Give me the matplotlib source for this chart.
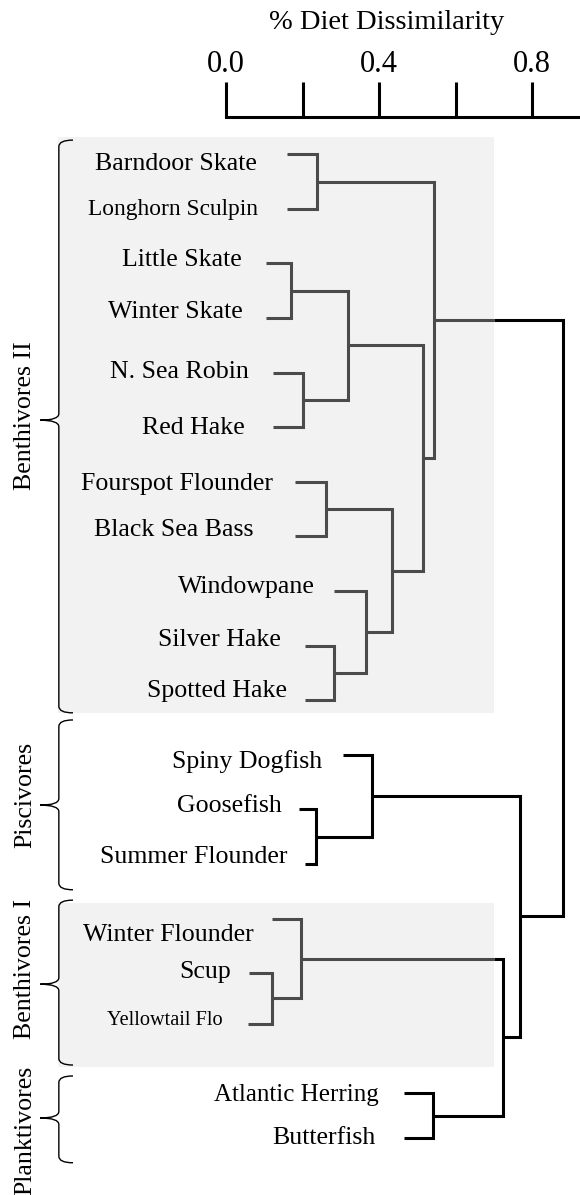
import matplotlib.pyplot as plt
from matplotlib.path import Path
from matplotlib.patches import PathPatch, Rectangle

plt.rcParams['font.family'] = ['Liberation Serif', 'DejaVu Serif']

# leaves, top to bottom
fish = ['Barndoor Skate', 'Longhorn Sculpin', 'Little Skate', 'Winter Skate',
        'N. Sea Robin', 'Red Hake', 'Fourspot Flounder', 'Black Sea Bass',
        'Windowpane', 'Silver Hake', 'Spotted Hake', 'Spiny Dogfish',
        'Goosefish', 'Summer Flounder', 'Winter Flounder', 'Scup',
        'Yellowtail Flo', 'Atlantic Herring', 'Butterfish']
group = (['Benthivores II'] * 11 + ['Piscivores'] * 3
         + ['Benthivores I'] * 3 + ['Planktivores'] * 2)
group_names = ['Benthivores II', 'Piscivores', 'Benthivores I', 'Planktivores']

# linkage (scipy style: new cluster ids start at len(fish))
merge_a = [0, 2, 4, 20, 6, 9, 8, 23, 22, 19, 12, 11, 15, 14, 17, 32, 30, 28]
merge_b = [1, 3, 5, 21, 7, 10, 24, 25, 26, 27, 13, 29, 16, 31, 18, 33, 34, 35]
merge_h = [0.238, 0.170, 0.202, 0.320, 0.261, 0.283, 0.366, 0.433, 0.516,
           0.544, 0.234, 0.381, 0.119, 0.196, 0.541, 0.724, 0.769, 0.882]

scale_ticks = [0.0, 0.2, 0.4, 0.6, 0.8]
scale_labels = ['0.0', '', '0.4', '', '0.8']

# ---- layout ----
leaf_row = list(range(16)) + [15.92, 17.19, 18.02]
stub_start = [0.159, 0.159, 0.104, 0.104, 0.123, 0.123, 0.180, 0.180, 0.283,
              0.207, 0.207, 0.305, 0.192, 0.207, 0.119, 0.060, 0.058,
              0.465, 0.465]
label_end = [0.081, 0.084, 0.042, 0.044, 0.060, 0.050, 0.123, 0.073, 0.233,
             0.144, 0.159, 0.250, 0.146, 0.162, 0.073, 0.013, -0.010,
             0.399, 0.390]
label_dy = [0.29, 0.11, 0.05, 0.0, 0.09, 0.13, 0.14, 0.0, 0.03, 0.01, -0.06,
            0.24, 0.04, -0.02, 0.40, 0.08, 0.02, 0.14, 0.10]
label_size = {'Longhorn Sculpin': 16.8, 'Yellowtail Flo': 14.6,
              'Atlantic Herring': 18.0}
shaded = {'Benthivores II': (-0.32, 10.23), 'Benthivores I': (13.72, 16.71)}
braces = {'Benthivores II': (-0.26, 4.87, 10.23),
          'Piscivores': (10.36, 11.92, 13.47),
          'Benthivores I': (13.66, 15.20, 16.68),
          'Planktivores': (16.88, 17.65, 18.47)}
group_label_row = {'Benthivores II': 4.79, 'Piscivores': 11.73,
                   'Benthivores I': 14.92, 'Planktivores': 17.87}

PX_X = 382.5   # pixels per unit dissimilarity
PX_Y = 54.6    # pixels per leaf row
W, H = 580, 1195
xmin, xmax = -226 / PX_X, (W - 226) / PX_X
rmin, rmax = -154.3 / PX_Y, (H - 154.3) / PX_Y
box_left, box_right = -0.44, 0.7007

GRAY = '#4b4b4b'
BLACK = '#000000'
LW = 2.2

fig = plt.figure(figsize=(W / 100, H / 100), dpi=100)
ax = fig.add_axes([0, 0, 1, 1])
ax.set_xlim(xmin, xmax)
ax.set_ylim(rmax, rmin)
ax.axis('off')

# shaded boxes
for g, (top, bottom) in shaded.items():
    ax.add_patch(Rectangle((box_left, top), box_right - box_left, bottom - top,
                           facecolor='#f2f2f2', edgecolor='none', zorder=0))

# dendrogram
n = len(fish)
node_x = list(stub_start)
node_y = list(leaf_row)
members = [{i} for i in range(n)]
for a, b, h in zip(merge_a, merge_b, merge_h):
    node_x.append(h)
    node_y.append((node_y[a] + node_y[b]) / 2)
    members.append(members[a] | members[b])


def is_shaded(node):
    gs = {group[i] for i in members[node]}
    return len(gs) == 1 and gs.pop() in shaded


def line(xs, ys, color):
    ax.plot(xs, ys, color=color, lw=LW, solid_joinstyle='miter',
            solid_capstyle='butt', zorder=2)


for k, (a, b, h) in enumerate(zip(merge_a, merge_b, merge_h)):
    node = n + k
    if is_shaded(node):
        line([node_x[a], h, h, node_x[b]],
             [node_y[a], node_y[a], node_y[b], node_y[b]], GRAY)
        continue
    xa, xb = node_x[a], node_x[b]
    for c in (a, b):
        if is_shaded(c):
            line([node_x[c], box_right], [node_y[c], node_y[c]], GRAY)
    if is_shaded(a):
        xa = box_right
    if is_shaded(b):
        xb = box_right
    line([xa, h, h, xb], [node_y[a], node_y[a], node_y[b], node_y[b]], BLACK)

# leaf labels
for i, name in enumerate(fish):
    ax.text(label_end[i], leaf_row[i] + label_dy[i], name,
            fontsize=label_size.get(name, 18.6), ha='right', va='baseline')

# braces and group labels
bx, hx, tx, r = -0.437, -0.400, -0.486, 0.12
for g in group_names:
    top, tip, bottom = braces[g]
    verts = [(hx, top), (bx, top), (bx, top + r), (bx, tip - r), (bx, tip),
             (tx, tip), (bx, tip), (bx, tip + r), (bx, bottom - r),
             (bx, bottom), (hx, bottom)]
    codes = [Path.MOVETO, Path.CURVE3, Path.CURVE3, Path.LINETO, Path.CURVE3,
             Path.CURVE3, Path.CURVE3, Path.CURVE3, Path.LINETO, Path.CURVE3,
             Path.CURVE3]
    ax.add_patch(PathPatch(Path(verts, codes), facecolor='none',
                           edgecolor='black', lw=1.0, zorder=3))
    ax.text(-0.525, group_label_row[g], g, rotation=90, fontsize=18.6,
            ha='center', va='center')

# scale bar at the top
ax.text(0.419, -2.405, '% Diet Dissimilarity', fontsize=20.5,
        ha='center', va='center')
sc = fig.add_axes([0, 1 - 117 / H, 1, 35 / H])
sc.set_xlim(xmin, xmax)
sc.set_ylim(0, 1)
sc.patch.set_alpha(0)
for s in ['left', 'right', 'top']:
    sc.spines[s].set_visible(False)
sc.spines['bottom'].set_linewidth(LW)
sc.spines['bottom'].set_bounds(0, xmax)
sc.set_yticks([])
sc.xaxis.set_ticks_position('top')
sc.set_xticks(scale_ticks)
sc.set_xticklabels(scale_labels)
sc.tick_params(axis='x', direction='in', length=35 * 0.72, width=LW,
               labelsize=22, pad=2)

fig.savefig('out.png', dpi=100)
